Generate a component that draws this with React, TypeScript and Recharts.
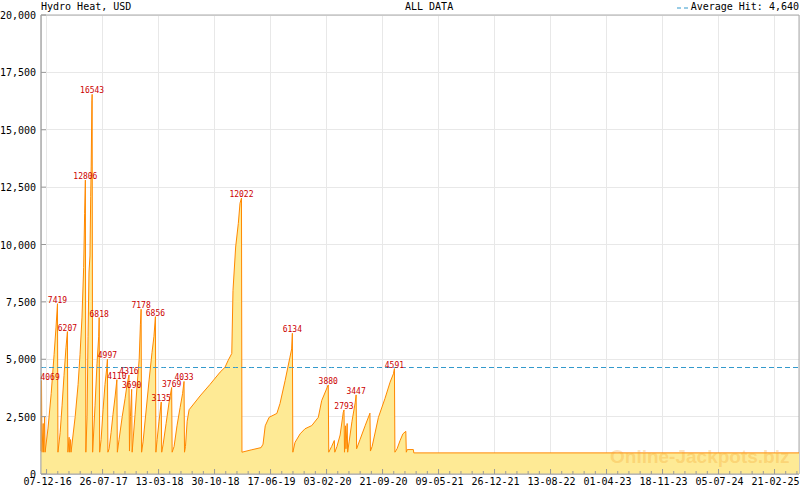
import React from "react";
import {
  AreaChart,
  Area,
  XAxis,
  YAxis,
  CartesianGrid,
  ReferenceArea,
  LabelList,
} from "recharts";

// days counted from 07-12-16 (first labelled tick)
const days = [
  -23, -21, -19, -14, -12, -8, -6,
  6, 19, 31, 39, 45, 47,
  56, 64, 72, 80, 86, 88,
  93, 95, 99, 101,
  118, 130, 138, 146, 153, 157, 160, 162,
  167, 171, 175, 179, 182, 184, 187, 188, 190,
  200, 208, 215, 217, 219,
  225, 233, 241, 248, 251, 253,
  258, 266, 274, 283, 290, 292,
  299, 312, 324, 332, 340, 342,
  346, 351, 353,
  365, 373, 382, 387, 390, 392,
  398, 410, 423, 435, 443, 449, 451,
  456, 464, 473, 475,
  481, 493, 505, 516, 518,
  526, 538, 551, 561, 567, 569,
  573, 580, 588, 633, 674, 716, 736, 749, 764, 769, 780, 791, 798, 804, 806,
  844, 885, 893, 902, 918, 950, 963, 984, 1004, 1011, 1014, 1016,
  1025, 1046, 1066, 1094, 1121, 1135, 1158, 1162, 1164,
  1176, 1187, 1189,
  1198, 1211, 1224, 1227, 1229,
  1233, 1235, 1240, 1242,
  1248, 1260, 1273, 1277, 1279,
  1293, 1314, 1334, 1336,
  1343, 1369, 1396, 1417, 1431, 1435, 1437,
  1446, 1458, 1470, 1482, 1484,
  1488, 1513, 1515, 3104,
];

const jackpot = [
  1000, 4069, 950, 2200, 950, 2500, 950,
  2000, 3500, 5200, 6400, 7419, 950,
  1800, 3000, 4300, 5500, 6207, 950,
  1600, 950, 1500, 950,
  2500, 3900, 5200, 6800, 9000, 11360, 12806, 950,
  2500, 6000, 8800, 9500, 12100, 13380, 16260, 16543, 950,
  3000, 4800, 6000, 6818, 950,
  1500, 2800, 3900, 4600, 4997, 950,
  1100, 1800, 2600, 3400, 4110, 950,
  1500, 2500, 3300, 3900, 4316, 1000,
  2500, 3690, 950,
  2600, 3800, 5000, 6500, 7178, 950,
  1400, 2700, 4100, 5300, 6000, 6856, 950,
  1500, 2300, 3135, 950,
  1300, 2200, 3100, 3769, 950,
  1200, 2100, 2900, 3500, 4033, 950,
  1200, 2300, 2800, 3400, 3900, 4440, 4650, 4950, 5250, 8000, 9890, 10920, 11800, 12022, 950,
  1050, 1150, 1300, 2100, 2470, 2640, 3070, 4070, 5090, 5450, 6134, 950,
  1380, 1750, 1970, 2110, 2470, 3200, 3780, 3880, 950,
  1200, 1460, 950,
  1200, 1700, 2690, 2793, 950,
  2100, 1100, 2200, 950,
  1400, 2300, 3100, 3447, 1100,
  1500, 2100, 2650, 1000,
  1200, 2470, 3290, 4000, 4370, 4591, 950,
  1100, 1450, 1750, 1860, 950,
  1065, 1065, 920, 920,
];

const peakValues = [
  4069, 7419, 6207, 12806, 16543, 6818, 4997, 4110, 4316, 3690, 7178, 6856,
  3135, 3769, 4033, 12022, 6134, 3880, 2793, 3447, 4591,
];

const tickLabels = [
  "07-12-16", "26-07-17", "13-03-18", "30-10-18", "17-06-19", "03-02-20",
  "21-09-20", "09-05-21", "26-12-21", "13-08-22", "01-04-23", "18-11-23",
  "05-07-24", "21-02-25",
];

const yTicks = [0, 2500, 5000, 7500, 10000, 12500, 15000, 17500, 20000];
const averageHit = 4640;

const TICK_STEP = 231;
const X_DOMAIN: [number, number] = [-23, 3104];

const data = days.map((d, i) => ({ day: d, value: jackpot[i], avg: averageHit }));
const majorTicks = tickLabels.map((_, i) => i * TICK_STEP);
const allTicks: number[] = [];
for (let k = 0; (k * TICK_STEP) / 5 <= X_DOMAIN[1]; k++) allTicks.push((k * TICK_STEP) / 5);

const FONT = "'DejaVu Sans Mono', monospace";

function XTick(props: any) {
  const { x, y, payload } = props;
  const idx = payload.value / TICK_STEP;
  const major = Math.abs(idx - Math.round(idx)) < 1e-6;
  return (
    <g>
      <line x1={x} x2={x} y1={y} y2={y - (major ? 5 : 3)} stroke="#999" />
      {major && (
        <text x={x + 1} y={y + 11} textAnchor="middle" fontSize={10} fontFamily={FONT} fill="#000">
          {tickLabels[Math.round(idx)]}
        </text>
      )}
    </g>
  );
}

function YTick(props: any) {
  const { x, y, payload } = props;
  return (
    <g>
      <line x1={x} x2={x + 5} y1={y} y2={y} stroke="#999" />
      <text x={x - 5} y={y + 4} textAnchor="end" fontSize={10} fontFamily={FONT} fill="#000">
        {payload.value.toLocaleString("en-US")}
      </text>
    </g>
  );
}

function PeakLabel(props: any) {
  const { x, y, value, index } = props;
  if (!peakValues.includes(value)) return null;
  const atEdge = index <= 1;
  return (
    <text
      x={atEdge ? x - 1 : x}
      y={y - 1}
      textAnchor={atEdge ? "start" : "middle"}
      fontSize={8}
      fontFamily={FONT}
      fill="#cc0000"
    >
      {value}
    </text>
  );
}

export default function App() {
  return (
    <div
      style={{
        position: "absolute",
        left: 0,
        top: 0,
        width: 800,
        height: 490,
        background: "#fff",
        fontFamily: FONT,
        fontSize: 10,
      }}
    >
      <div style={{ position: "absolute", left: 41, top: 1, lineHeight: "12px" }}>Hydro Heat, USD</div>
      <div style={{ position: "absolute", left: 405, top: 1, lineHeight: "12px" }}>ALL DATA</div>
      <div
        style={{
          position: "absolute",
          right: 1,
          top: 1,
          lineHeight: "12px",
          display: "flex",
          alignItems: "center",
        }}
      >
        <svg width={15} height={12}>
          <line x1={1} x2={15} y1={7} y2={7} stroke="#3399cc" strokeDasharray="4 3" />
        </svg>
        <span>Average Hit: 4,640</span>
      </div>
      <AreaChart
        width={800}
        height={490}
        data={data}
        margin={{ top: 15, right: 1, bottom: 0, left: 0 }}
      >
        <CartesianGrid xAxisId="grid" stroke="#e8e8e8" shapeRendering="crispEdges" />
        <XAxis
          xAxisId="main"
          dataKey="day"
          type="number"
          domain={X_DOMAIN}
          ticks={allTicks}
          interval={0}
          height={16}
          tickSize={0}
          tickMargin={0}
          tickLine={false}
          axisLine={{ stroke: "#aaa" }}
          tick={<XTick />}
        />
        <XAxis
          xAxisId="grid"
          dataKey="day"
          type="number"
          domain={X_DOMAIN}
          ticks={majorTicks}
          height={0}
          hide
        />
        <YAxis
          domain={[0, 20000]}
          ticks={yTicks}
          width={41}
          tickSize={0}
          tickMargin={0}
          tickLine={false}
          axisLine={{ stroke: "#aaa" }}
          tick={<YTick />}
          interval={0}
        />
        <ReferenceArea
          xAxisId="main"
          x1={X_DOMAIN[0]}
          x2={X_DOMAIN[1]}
          y1={0}
          y2={20000}
          fill="none"
          stroke="#aaa"
        />
        <Area
          xAxisId="main"
          type="linear"
          dataKey="value"
          stroke="#ff8800"
          strokeWidth={1}
          fill="#feea95"
          fillOpacity={1}
          dot={false}
          activeDot={false}
          isAnimationActive={false}
        >
          <LabelList dataKey="value" content={<PeakLabel />} />
        </Area>
        <Area
          xAxisId="main"
          type="linear"
          dataKey="avg"
          stroke="#3399cc"
          strokeWidth={1}
          strokeDasharray="5 3"
          fill="none"
          fillOpacity={0}
          dot={false}
          activeDot={false}
          isAnimationActive={false}
        />
      </AreaChart>
      <div
        style={{
          position: "absolute",
          left: 610,
          top: 446,
          fontFamily: "'Liberation Sans', Arial, sans-serif",
          fontWeight: "bold",
          fontSize: 19,
          color: "rgba(245,160,40,0.3)",
          pointerEvents: "none",
        }}
      >
        Online-Jackpots.biz
      </div>
    </div>
  );
}
